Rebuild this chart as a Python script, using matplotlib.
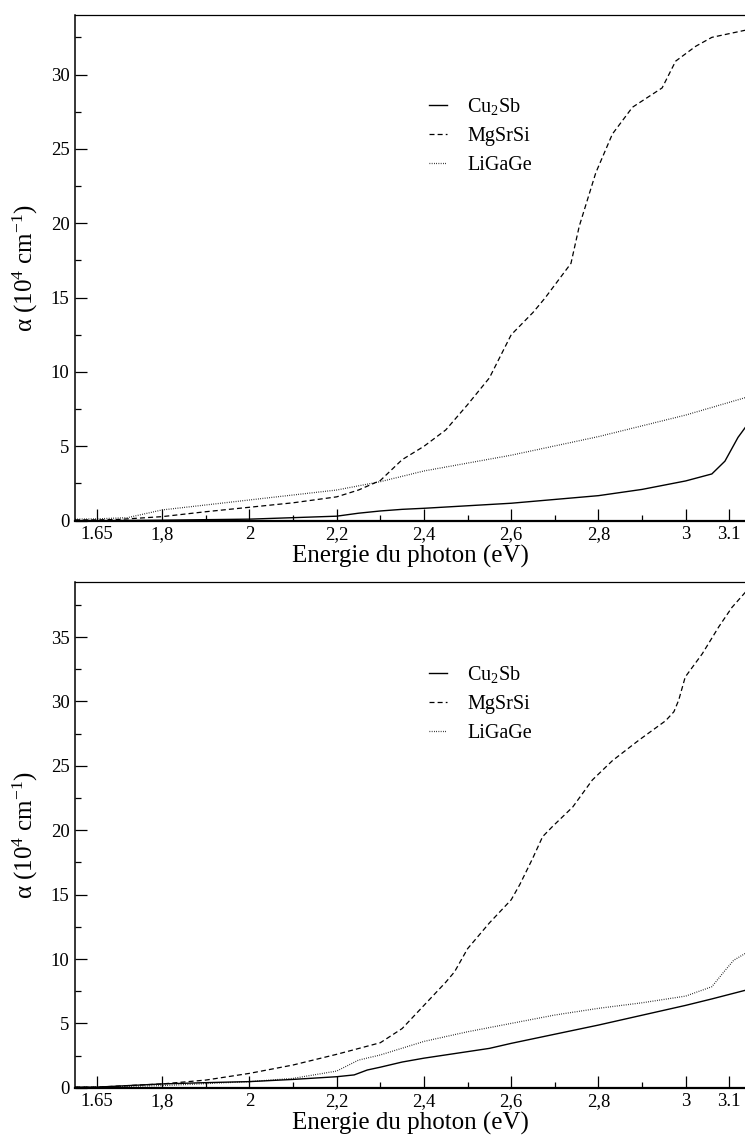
import matplotlib
matplotlib.use("Agg")
import matplotlib.pyplot as plt
from matplotlib.ticker import FixedLocator, MultipleLocator

plt.rcParams['font.family'] = ['Liberation Serif', 'DejaVu Serif']
plt.rcParams['mathtext.fontset'] = 'custom'
plt.rcParams['mathtext.rm'] = 'Liberation Serif'
plt.rcParams['mathtext.it'] = 'Liberation Serif:italic'

# axe des x commun
x_ticks = [1.65, 1.8, 2.0, 2.2, 2.4, 2.6, 2.8, 3.0, 3.1]
x_tick_labels = ['1.65', '1,8', '2', '2,2', '2,4', '2,6', '2,8', '3', '3.1']
x_minor = [1.9, 2.1, 2.3, 2.5, 2.7, 2.9]
noms = ['Cu$_2$Sb', 'MgSrSi', 'LiGaGe']

# --- panneau du haut ---
e_cu_a = [1.6, 1.65, 1.8, 2.0, 2.2, 2.25, 2.3, 2.35, 2.4, 2.6, 2.8, 2.9, 3.0, 3.06, 3.09, 3.12, 3.14]
a_cu_a = [0.0, 0.0, 0.03, 0.1, 0.3, 0.5, 0.65, 0.76, 0.83, 1.17, 1.68, 2.1, 2.67, 3.14, 4.0, 5.6, 6.4]

e_mg_a = [1.6, 1.65, 1.7, 1.8, 1.9, 2.0, 2.1, 2.2, 2.25, 2.3, 2.35, 2.4, 2.45, 2.5, 2.55, 2.6, 2.65,
          2.677, 2.737, 2.756, 2.794, 2.832, 2.878, 2.946, 2.977, 3.023, 3.06, 3.14]
a_mg_a = [0.05, 0.05, 0.08, 0.27, 0.6, 0.9, 1.2, 1.6, 2.06, 2.7, 4.1, 5.0, 6.1, 7.8, 9.6, 12.5, 14.0,
          14.95, 17.3, 19.8, 23.4, 26.0, 27.8, 29.1, 30.9, 31.9, 32.5, 33.0]

e_li_a = [1.6, 1.65, 1.72, 1.8, 2.0, 2.2, 2.3, 2.4, 2.6, 2.8, 3.0, 3.14]
a_li_a = [0.1, 0.12, 0.2, 0.72, 1.39, 2.06, 2.62, 3.34, 4.4, 5.65, 7.1, 8.3]

# --- panneau du bas ---
e_cu_b = [1.6, 1.65, 1.8, 1.9, 2.0, 2.1, 2.2, 2.24, 2.27, 2.3, 2.35, 2.4, 2.55, 2.6, 2.8, 3.0, 3.06, 3.14]
a_cu_b = [0.05, 0.05, 0.3, 0.4, 0.48, 0.65, 0.86, 1.0, 1.38, 1.6, 2.0, 2.3, 3.06, 3.45, 4.87, 6.4, 6.9, 7.6]

e_mg_b = [1.6, 1.65, 1.8, 1.9, 2.0, 2.1, 2.2, 2.3, 2.35, 2.4, 2.45, 2.47, 2.5, 2.55, 2.6, 2.62,
          2.649, 2.672, 2.695, 2.741, 2.786, 2.832, 2.893, 2.954, 2.973, 2.984, 2.999, 3.038,
          3.076, 3.106, 3.14]
a_mg_b = [0.05, 0.05, 0.3, 0.6, 1.12, 1.77, 2.6, 3.5, 4.6, 6.4, 8.2, 9.0, 10.8, 12.8, 14.6, 15.8,
          17.8, 19.5, 20.3, 21.8, 23.9, 25.4, 27.0, 28.5, 29.2, 30.1, 31.9, 33.7,
          35.8, 37.3, 38.6]

e_li_b = [1.6, 1.65, 1.8, 2.0, 2.1, 2.2, 2.25, 2.3, 2.4, 2.5, 2.6, 2.7, 2.8, 2.9, 3.0, 3.06, 3.09, 3.11, 3.14]
a_li_b = [0.05, 0.05, 0.17, 0.48, 0.73, 1.3, 2.15, 2.55, 3.6, 4.35, 5.0, 5.65, 6.17, 6.6, 7.12, 7.85, 9.1, 9.9, 10.5]

fig = plt.figure(figsize=(7.45, 11.4), dpi=100)
ax1 = fig.add_axes([0.1007, 0.5433, 0.8993, 0.4435])
ax2 = fig.add_axes([0.1007, 0.0458, 0.8993, 0.4434])

panneaux = [
    (ax1, [(e_cu_a, a_cu_a), (e_mg_a, a_mg_a), (e_li_a, a_li_a)], 34.0, (0.565, 0.923)),
    (ax2, [(e_cu_b, a_cu_b), (e_mg_b, a_mg_b), (e_li_b, a_li_b)], 39.25, (0.565, 0.4245)),
]
styles = [dict(ls='-', lw=1.0), dict(ls=(0, (4, 2.5)), lw=0.9), dict(ls=(0, (0.6, 1.2)), lw=0.9)]

for ax, series, ymax, pos_leg in panneaux:
    for (e, a), nom, st in zip(series, noms, styles):
        ax.plot(e, a, color='black', label=nom, **st)

    ax.set_xlim(1.6, 3.136)
    ax.set_ylim(0, ymax)
    ax.xaxis.set_major_locator(FixedLocator(x_ticks))
    ax.set_xticklabels(x_tick_labels)
    ax.xaxis.set_minor_locator(FixedLocator(x_minor))
    ax.yaxis.set_major_locator(MultipleLocator(5))
    ax.yaxis.set_minor_locator(MultipleLocator(2.5))
    ax.tick_params(which='both', direction='in', top=False, right=False, labelsize=13.5, pad=4)
    ax.tick_params(which='major', length=8.5, width=0.9)
    ax.tick_params(which='minor', length=4.5, width=0.9)
    ax.spines['right'].set_visible(False)
    ax.spines['top'].set_linewidth(0.9)
    ax.spines['left'].set_linewidth(1.1)
    ax.spines['bottom'].set_linewidth(1.6)

    ax.set_xlabel('Energie du photon (eV)', fontsize=18, labelpad=1)
    ax.set_ylabel(r'α (10$^{4}$ cm$^{-1}$)', fontsize=18, labelpad=8)

    ax.legend(loc='upper left', bbox_to_anchor=pos_leg, bbox_transform=fig.transFigure,
              frameon=False, fontsize=14.5, handlelength=0.9, handletextpad=1.0,
              labelspacing=0.5, borderaxespad=0)

fig.savefig('out.png', dpi=100)
